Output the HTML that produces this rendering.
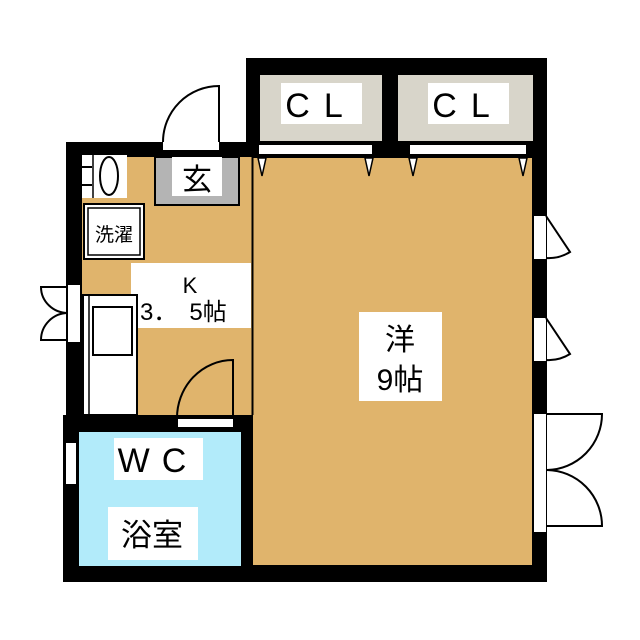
<!DOCTYPE html>
<html><head><meta charset="utf-8"><style>html,body{margin:0;padding:0;background:#fff}svg{display:block}</style></head><body>
<svg width="640" height="640" viewBox="0 0 640 640" xmlns="http://www.w3.org/2000/svg" font-family="'Liberation Sans','Noto Sans CJK JP',sans-serif">
<rect x="246" y="58" width="301" height="100" fill="#000"/>
<rect x="66" y="142" width="481" height="30" fill="#000"/>
<rect x="66" y="142" width="16" height="280" fill="#000"/>
<rect x="532" y="142" width="15" height="440" fill="#000"/>
<rect x="63" y="415" width="197" height="167" fill="#000"/>
<rect x="246" y="549" width="301" height="33" fill="#000"/>
<rect x="260" y="75" width="122" height="66" fill="#d8d5ca"/>
<rect x="398" y="75" width="135" height="66" fill="#d8d5ca"/>
<rect x="281" y="83" width="81" height="41" fill="#fff"/>
<rect x="428" y="83" width="81" height="41" fill="#fff"/>
<text x="321" y="117" font-size="34" text-anchor="middle" letter-spacing="14">CL</text>
<text x="468" y="117" font-size="34" text-anchor="middle" letter-spacing="14">CL</text>
<rect x="82" y="157" width="170" height="258" fill="#e0b46c"/>
<rect x="253" y="158" width="279" height="407" fill="#e0b46c"/>
<line x1="252.5" y1="157" x2="252.5" y2="415" stroke="#000" stroke-width="2"/>
<rect x="259" y="145" width="113" height="9" fill="#fff"/>
<rect x="410" y="145" width="116" height="9" fill="#fff"/>
<g fill="#fff" stroke="#000" stroke-width="1.5">
<polygon points="258,158 266,158 262,176"/><polygon points="365,158 373,158 369,176"/>
<polygon points="409,158 417,158 413,176"/><polygon points="519,158 527,158 523,176"/>
</g>
<rect x="155" y="157" width="84" height="48" fill="#b4b4b4" stroke="#000" stroke-width="2"/>
<rect x="172" y="157" width="50" height="39" fill="#fff"/>
<text x="197" y="190" font-size="30" text-anchor="middle">玄</text>
<rect x="163" y="142" width="56" height="8" fill="#fff"/>
<path d="M219,142 L219,86 A56,56 0 0 0 163,142" fill="none" stroke="#000" stroke-width="2"/>
<rect x="82" y="155" width="45" height="43" fill="#fff"/>
<line x1="82" y1="167" x2="92" y2="167" stroke="#000" stroke-width="2"/>
<line x1="82" y1="185" x2="92" y2="185" stroke="#000" stroke-width="2"/>
<line x1="93" y1="155" x2="93" y2="198" stroke="#000" stroke-width="1.5"/>
<ellipse cx="109" cy="176" rx="9" ry="19" fill="#fff" stroke="#000" stroke-width="2"/>
<rect x="84" y="204" width="60" height="55" fill="#fff" stroke="#000" stroke-width="2"/>
<rect x="88" y="208" width="52" height="47" fill="#fff" stroke="#000" stroke-width="1.5"/>
<text x="114" y="241" font-size="19" text-anchor="middle">洗濯</text>
<rect x="131" y="263" width="120" height="65" fill="#fff"/>
<text x="190" y="293" font-size="22" text-anchor="middle">K</text>
<text x="140" y="320" font-size="24">3．　5帖</text>
<rect x="83" y="295" width="54" height="120" fill="#fff" stroke="#000" stroke-width="2"/>
<line x1="89" y1="295" x2="89" y2="415" stroke="#000" stroke-width="1.5"/>
<rect x="93" y="307" width="39" height="48" fill="#fff" stroke="#000" stroke-width="2"/>
<rect x="68" y="285" width="12" height="57" fill="#fff"/>
<path d="M68,287 L41,287 A27,26 0 0 0 68,313 A27,27 0 0 0 41,340 L68,340" fill="none" stroke="#000" stroke-width="2"/>
<rect x="178" y="419" width="55" height="8" fill="#fff"/>
<path d="M233,419 L233,360 A56,58 0 0 0 177,419" fill="none" stroke="#000" stroke-width="2"/>
<rect x="79" y="432" width="162" height="134" fill="#b2ebfa"/>
<rect x="114" y="438" width="89" height="42" fill="#fff"/>
<text x="158" y="472" font-size="34" text-anchor="middle" letter-spacing="12">WC</text>
<rect x="108" y="507" width="90" height="53" fill="#fff"/>
<text x="152" y="546" font-size="31" text-anchor="middle">浴室</text>
<rect x="66" y="443" width="10" height="41" fill="#fff"/>
<rect x="359" y="312" width="83" height="89" fill="#fff"/>
<text x="400" y="350" font-size="30" text-anchor="middle">洋</text>
<text x="400" y="390" font-size="30" text-anchor="middle">9帖</text>
<rect x="534" y="216" width="12" height="43" fill="#fff"/>
<path d="M546,216 L570,252 A40,40 0 0 1 546,258" fill="none" stroke="#000" stroke-width="2"/>
<rect x="534" y="318" width="12" height="43" fill="#fff"/>
<path d="M546,318 L570,354 A40,40 0 0 1 546,360" fill="none" stroke="#000" stroke-width="2"/>
<rect x="534" y="414" width="12" height="118" fill="#fff"/>
<path d="M547,414 L602,414 A56,56 0 0 1 547,470 A56,56 0 0 1 602,526 L547,526" fill="none" stroke="#000" stroke-width="2"/>
</svg>
</body></html>
